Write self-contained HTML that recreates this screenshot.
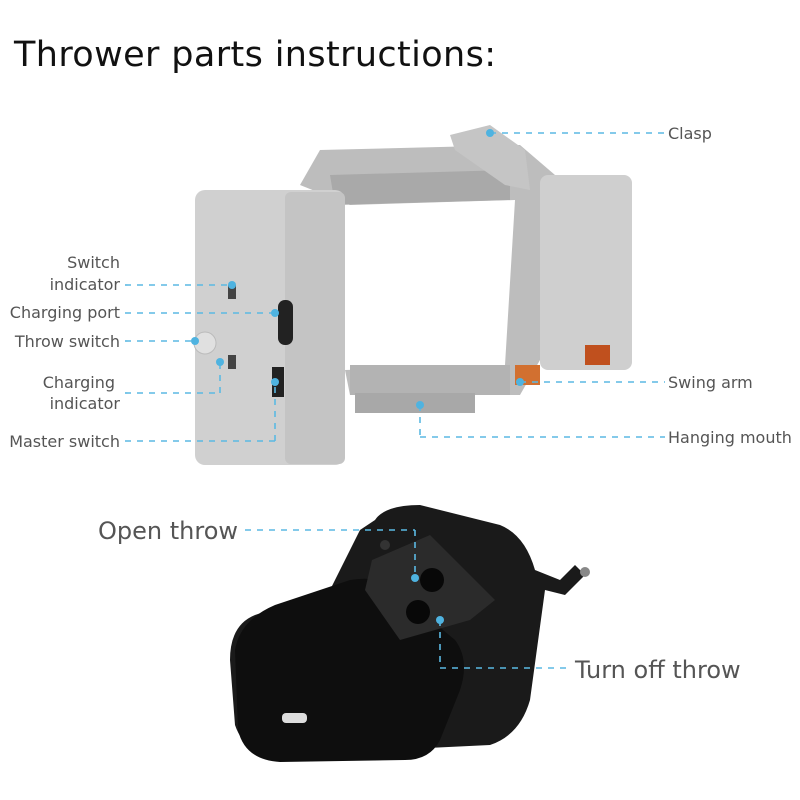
<!DOCTYPE html>
<html><head><style>
body{margin:0;background:#fff;width:800px;height:800px;overflow:hidden;}
svg{display:block}
text{font-family:"DejaVu Sans","Liberation Sans",sans-serif;fill:#555}
</style></head><body>
<svg width="800" height="800" viewBox="0 0 800 800">
<text x="14" y="66" textLength="482" style="font-size:35px;fill:#111;font-weight:500">Thrower parts instructions:</text>

<!-- frame -->
<path d="M300 185 L320 150 L520 145 L555 175 L540 360 L520 395 L350 395 L345 370 L505 365 L515 200 L350 205 Z" fill="#bdbdbd"/>
<path d="M330 175 L510 170 L510 200 L335 205 Z" fill="#a9a9a9"/>
<rect x="350" y="365" width="160" height="30" fill="#b3b3b3"/>
<rect x="355" y="393" width="120" height="20" fill="#a8a8a8"/>
<path d="M450 135 L490 125 L525 150 L530 190 L505 185 L455 150 Z" fill="#c5c5c5"/>
<!-- right box -->
<rect x="540" y="175" width="92" height="195" rx="8" fill="#cfcfcf"/>
<rect x="585" y="345" width="25" height="20" fill="#c0501e"/>
<rect x="515" y="365" width="25" height="20" fill="#d27030"/>
<!-- left box -->
<rect x="195" y="190" width="150" height="275" rx="10" fill="#d0d0d0"/>
<rect x="285" y="192" width="60" height="272" rx="6" fill="#c4c4c4"/>
<rect x="228" y="285" width="8" height="14" fill="#444"/>
<rect x="228" y="355" width="8" height="14" fill="#444"/>
<rect x="278" y="300" width="15" height="45" rx="7" fill="#222"/>
<rect x="272" y="367" width="12" height="30" fill="#222"/>
<circle cx="205" cy="343" r="11" fill="#e0e0e0" stroke="#bbb"/>

<!-- remote -->
<path d="M375 520 Q385 505 420 505 L500 525 Q525 535 535 570 L560 580 L575 565 L585 575 L565 595 L545 590 L530 700 Q520 735 490 745 L280 755 Q245 755 235 725 L230 660 Q230 625 255 615 L330 590 L360 530 Z" fill="#1a1a1a"/>
<path d="M235 650 Q240 620 275 605 L350 580 Q380 575 395 590 L455 640 Q470 660 460 690 L440 740 Q430 760 405 760 L280 762 Q245 760 238 730 Z" fill="#0e0e0e"/>
<path d="M372 560 L430 535 L495 600 L470 620 L400 640 L365 590 Z" fill="#2b2b2b"/>
<circle cx="432" cy="580" r="12" fill="#080808"/>
<circle cx="418" cy="612" r="12" fill="#080808"/>
<circle cx="385" cy="545" r="5" fill="#333"/>
<rect x="282" y="713" width="25" height="10" rx="4" fill="#ddd"/>
<circle cx="585" cy="572" r="5" fill="#888"/>

<g stroke="#5bb9e3" stroke-width="1.6" stroke-dasharray="6 6" fill="none">
<line x1="490" y1="133" x2="665" y2="133"/>
<line x1="125" y1="285" x2="232" y2="285"/>
<line x1="125" y1="313" x2="275" y2="313"/>
<line x1="125" y1="341" x2="195" y2="341"/>
<line x1="125" y1="393" x2="220" y2="393"/><line x1="220" y1="393" x2="220" y2="362"/>
<line x1="125" y1="441" x2="275" y2="441"/><line x1="275" y1="441" x2="275" y2="382"/>
<line x1="520" y1="382" x2="665" y2="382"/>
<line x1="420" y1="405" x2="420" y2="437"/><line x1="420" y1="437" x2="665" y2="437"/>
<line x1="245" y1="530" x2="415" y2="530"/><line x1="415" y1="530" x2="415" y2="578"/>
<line x1="440" y1="620" x2="440" y2="668"/><line x1="440" y1="668" x2="570" y2="668"/>
</g>
<g fill="#4fb3e0">
<circle cx="490" cy="133" r="4"/><circle cx="232" cy="285" r="4"/><circle cx="275" cy="313" r="4"/>
<circle cx="195" cy="341" r="4"/><circle cx="220" cy="362" r="4"/><circle cx="275" cy="382" r="4"/>
<circle cx="520" cy="382" r="4"/><circle cx="420" cy="405" r="4"/><circle cx="415" cy="578" r="4"/><circle cx="440" cy="620" r="4"/>
</g>

<g style="font-size:16px">
<text x="668" y="139">Clasp</text>
<text x="120" y="268" text-anchor="end">Switch</text>
<text x="120" y="290" text-anchor="end">indicator</text>
<text x="120" y="318" text-anchor="end">Charging port</text>
<text x="120" y="347" text-anchor="end">Throw switch</text>
<text x="115" y="388" text-anchor="end">Charging</text>
<text x="120" y="409" text-anchor="end">indicator</text>
<text x="120" y="447" text-anchor="end">Master switch</text>
<text x="668" y="388">Swing arm</text>
<text x="668" y="443">Hanging mouth</text>
</g>
<text x="98" y="539" style="font-size:24px">Open throw</text>
<text x="575" y="678" style="font-size:24px">Turn off throw</text>
</svg>
</body></html>
